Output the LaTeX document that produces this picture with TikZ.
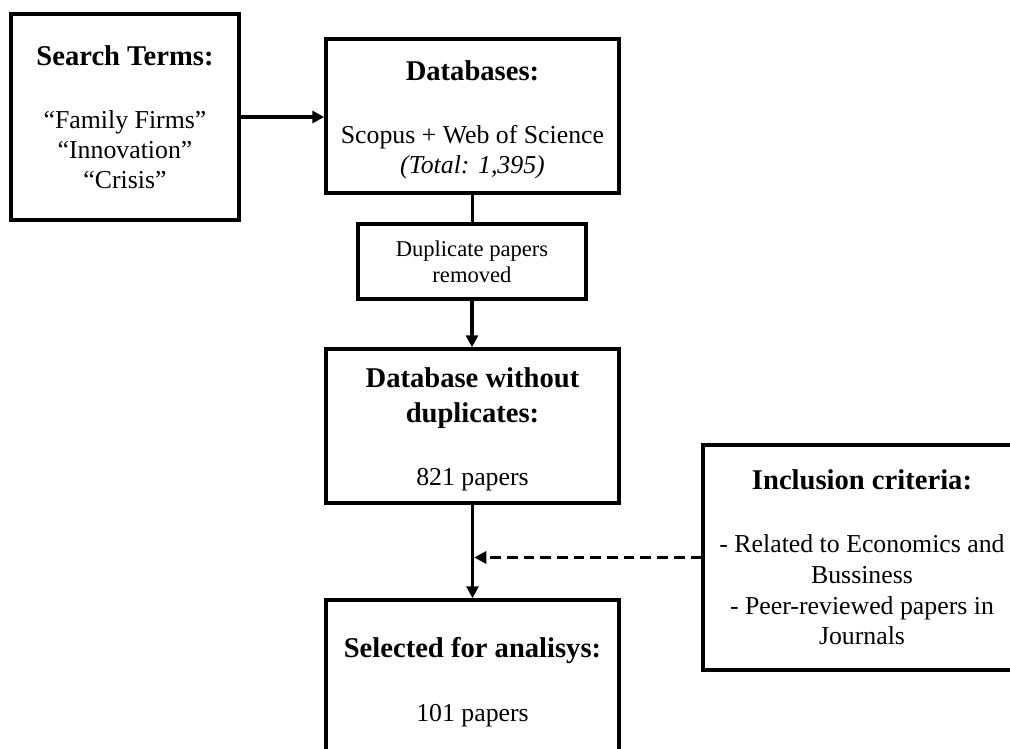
\documentclass[tikz,border=0pt]{standalone}
\usepackage{fontspec}
\setmainfont{Liberation Serif}
\usetikzlibrary{arrows.meta}
\newcommand\boxtitle[1]{{\fontsize{28.6}{30}\selectfont\bfseries #1}}
\begin{document}
\begin{tikzpicture}[x=1pt,y=-1pt,
  box/.style={draw, line width=3.5pt, align=center, inner sep=0pt,
    font=\fontsize{25.8}{30}\selectfont},
  conn/.style={line width=3.5pt},
  arr/.style={conn, -{Triangle[length=12pt,width=12pt]}},
  dasharr/.style={arr, dash pattern=on 10.7pt off 6pt},
]
\fill[white] (0,0) rectangle (1010,749);
\useasboundingbox (0,0) rectangle (1010,749);
\begin{scope}
\clip (0,0) rectangle (1010,749);
\node[box, minimum width=228pt, minimum height=206pt] (search) at (125,117)
  {\boxtitle{Search Terms:}\\[33pt]“Family Firms”\\“Innovation”\\“Crisis”};
\node[box, minimum width=293pt, minimum height=154pt] (db) at (472.5,116)
  {\rule{0pt}{26.5pt}\boxtitle{Databases:}\\[33pt]Scopus + Web of Science\\\textit{(Total: 1,395)}};
\node[box, minimum width=228pt, minimum height=75pt, font=\fontsize{22.6}{26}\selectfont] (dup) at (472,261.5)
  {Duplicate papers\\removed};
\node[box, minimum width=293pt, minimum height=154pt] (nodup) at (472.5,426)
  {\rule{0pt}{25.5pt}\boxtitle{Database without}\\[5pt]\boxtitle{duplicates:}\\[33pt]821 papers};
\node[box, minimum width=293pt, minimum height=164pt] (sel) at (472.5,682)
  {\boxtitle{Selected for analisys:}\\[34pt]101 papers};
\node[box, minimum width=318pt, minimum height=225pt, font=\fontsize{25.8}{30.7}\selectfont] (incl) at (862,557.5)
  {\boxtitle{Inclusion criteria:}\\[32.3pt]- Related to Economics and\\Bussiness\\- Peer-reviewed papers in\\Journals};
\end{scope}
\draw[arr] (search.east) -- (search.east -| db.west);
\draw[conn] (db.south) -- (db.south |- dup.north);
\draw[arr] (dup.south) -- (dup.south |- nodup.north);
\draw[arr] (nodup.south) -- (nodup.south |- sel.north);
\draw[dasharr, shorten >=1.75pt] (incl.west) -- (incl.west -| nodup.south);
\end{tikzpicture}
\end{document}
